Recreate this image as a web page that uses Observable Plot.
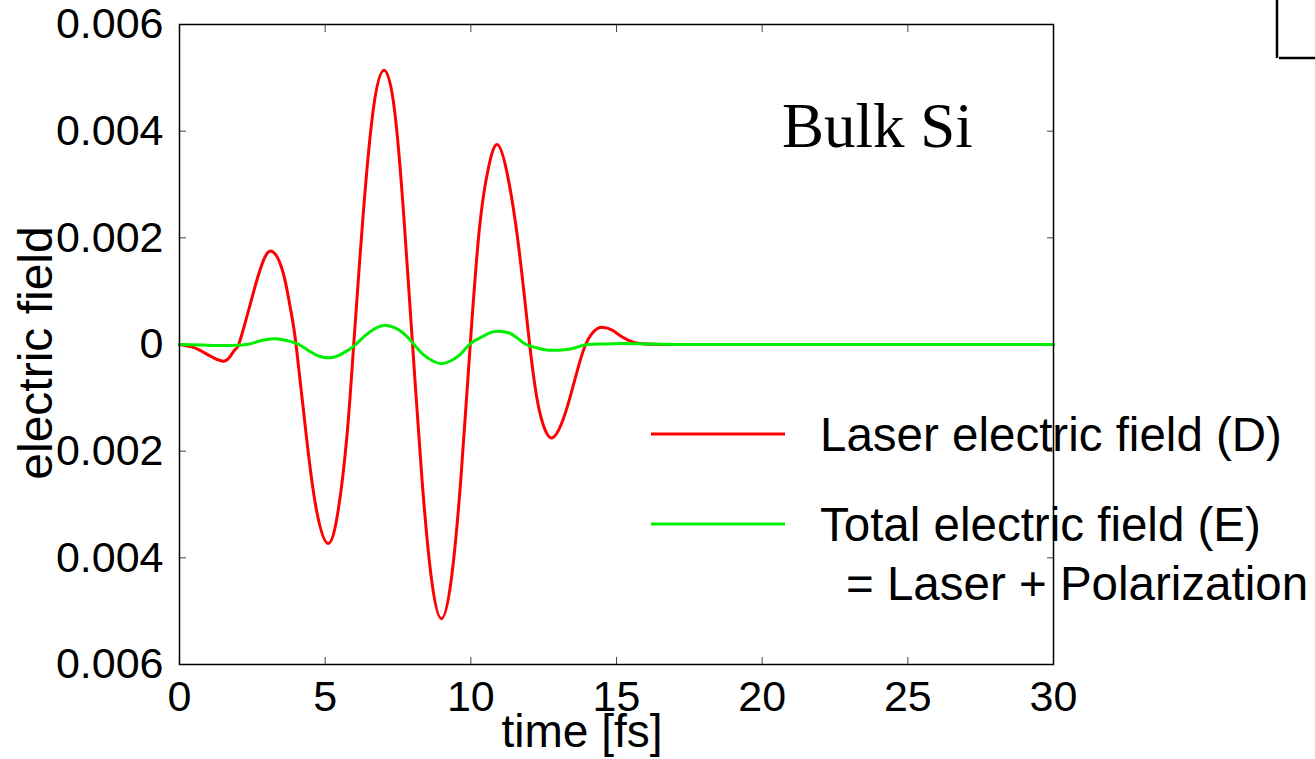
<!DOCTYPE html>
<html>
<head>
<meta charset="utf-8">
<script src="https://cdn.jsdelivr.net/npm/d3@7"></script>
<script src="https://cdn.jsdelivr.net/npm/@observablehq/plot@0.6"></script>
<style>
  html, body { margin: 0; padding: 0; background: white; }
  #chart { position: relative; width: 1315px; height: 759px; }
</style>
</head>
<body>
<div id="chart"></div>
<script>
// ---- data ----
const laserTime = [0, 0.5, 1.0, 1.45, 1.7, 1.9, 2.03,
  2.3, 2.6, 2.9, 3.2, 3.55, 3.8, 4.0,
  4.35, 4.7, 5.1, 5.45, 5.75, 5.98,
  6.3, 6.65, 7.02, 7.38, 7.7, 8.0,
  8.32, 8.65, 8.99, 9.33, 9.66, 9.98,
  10.3, 10.6, 10.9, 11.25, 11.65, 12.02,
  12.3, 12.55, 12.8, 13.1, 13.4, 13.7, 13.94,
  14.15, 14.35, 14.56, 14.85, 15.2, 15.6, 16.0, 16.5, 17, 18, 20, 25, 30];
const laserField = [0, -0.00006, -0.0002, -0.00031, -0.00025, -0.0001, 0,
  0.0005, 0.0011, 0.0016, 0.00174, 0.00136, 0.0007, 0,
  -0.0017, -0.0031, -0.00373, -0.0031, -0.0017, 0,
  0.0024, 0.0044, 0.00514, 0.0044, 0.0024, 0,
  -0.0025, -0.0044, -0.00514, -0.0044, -0.0025, 0,
  0.0022, 0.0033, 0.00375, 0.0032, 0.0018, 0,
  -0.0011, -0.0016, -0.00175, -0.0015, -0.001, -0.0004, 0,
  0.0002, 0.0003, 0.00032, 0.00027, 0.00014, 0.00004, 0.00001, 0, 0, 0, 0, 0, 0];

const totalTime = [0, 0.8, 1.5, 2.3,
  2.65, 2.95, 3.25, 3.55, 3.85, 4.1,
  4.45, 4.8, 5.1, 5.4, 5.75, 6.05,
  6.4, 6.75, 7.05, 7.4, 7.75, 8.05,
  8.35, 8.7, 9.0, 9.3, 9.65, 9.95,
  10.3, 10.65, 10.95, 11.3, 11.6, 11.9,
  12.25, 12.55, 12.85, 13.2, 13.6, 14.0,
  14.6, 15.2, 16, 17, 18, 20, 25, 30];
const totalField = [0, -0.00001, -0.00002, 0,
  0.00005, 0.00009, 0.00011, 0.00009, 0.00005, 0,
  -0.00012, -0.00022, -0.00025, -0.00022, -0.00012, 0,
  0.00018, 0.00031, 0.00036, 0.00031, 0.00018, 0,
  -0.00018, -0.00031, -0.00036, -0.00031, -0.00018, 0,
  0.00012, 0.00022, 0.00025, 0.00022, 0.00012, 0,
  -0.00006, -0.0001, -0.00011, -0.0001, -0.00006, 0,
  0.00001, 0.00002, 0.00001, 0, 0, 0, 0, 0];

const xTicks = [0, 5, 10, 15, 20, 25, 30];
const yTicks = [-0.006, -0.004, -0.002, 0, 0.002, 0.004, 0.006];
const yTickLabels = ["0.006", "0.004", "0.002", "0", "0.002", "0.004", "0.006"];

const seriesNames = ["Laser electric field (D)", "Total electric field (E)"];
const seriesSub = "= Laser + Polarization";
const seriesColors = ["#ff0000", "#00ee00"];
const annotation = "Bulk Si";
const xLabel = "time [fs]";
const yLabel = "electric field";

// ---- tables ----
const laser = laserTime.map((t, i) => ({t, v: laserField[i]}));
const total = totalTime.map((t, i) => ({t, v: totalField[i]}));
const fmtY = d => yTickLabels[yTicks.findIndex(v => Math.abs(v - d) < 1e-9)];

const font = "'Liberation Sans', Arial, Helvetica, sans-serif";

const svg = Plot.plot({
  width: 1315,
  height: 759,
  marginLeft: 179,
  marginRight: 262,
  marginTop: 24,
  marginBottom: 95,
  x: {domain: [0, 30]},
  y: {domain: [-0.006, 0.006]},
  style: {fontFamily: font, fontSize: "43px", color: "black", background: "white", overflow: "visible"},
  marks: [
    Plot.axisY(yTicks, {anchor: "left", tickSize: -7, tickPadding: 23, tickFormat: fmtY, label: null, fontSize: 43, stroke: "#444"}),
    Plot.axisY(yTicks, {anchor: "right", tickSize: -7, tickFormat: () => "", label: null, stroke: "#444"}),
    Plot.axisX(xTicks, {anchor: "bottom", tickSize: -7, tickPadding: 23, tickFormat: d => String(d), label: null, fontSize: 43, stroke: "#444"}),
    Plot.axisX(xTicks, {anchor: "top", tickSize: -7, tickFormat: () => "", label: null, stroke: "#444"}),
    Plot.line(laser, {x: "t", y: "v", stroke: seriesColors[0], strokeWidth: 3, curve: "natural"}),
    Plot.line(total, {x: "t", y: "v", stroke: seriesColors[1], strokeWidth: 3, curve: "natural"}),
    Plot.frame({stroke: "black", strokeWidth: 1.5})
  ]
});

// ---- overlay annotations / legend ----
const g = d3.select(svg).append("g").attr("font-family", font).attr("fill", "black").attr("text-anchor", "start");

g.append("text").attr("x", 582).attr("y", 747).attr("text-anchor", "middle")
  .attr("font-size", 46).text(xLabel);
g.append("text").attr("transform", "translate(52,353) rotate(-90)").attr("text-anchor", "middle")
  .attr("font-size", 48).text(yLabel);

g.append("text").attr("x", 782).attr("y", 147).attr("text-anchor", "start")
  .attr("font-family", "'Liberation Serif', 'Times New Roman', serif")
  .attr("font-size", 63).text(annotation);

// legend
const legendY = [434, 524];
seriesNames.forEach((name, i) => {
  g.append("line").attr("x1", 651).attr("x2", 785).attr("y1", legendY[i]).attr("y2", legendY[i])
    .attr("stroke", seriesColors[i]).attr("stroke-width", 3);
  g.append("text").attr("x", 820).attr("y", legendY[i] + 17).attr("text-anchor", "start")
    .attr("font-size", 47.5).text(name);
});
g.append("text").attr("x", 846).attr("y", 600).attr("text-anchor", "start").attr("font-size", 47.5).text(seriesSub);

// corner fragment at top-right
g.append("path").attr("d", "M1277,0V58M1279,58H1315").attr("stroke", "black").attr("stroke-width", 2.5).attr("fill", "none");

document.getElementById("chart").appendChild(svg);
</script>
</body>
</html>
